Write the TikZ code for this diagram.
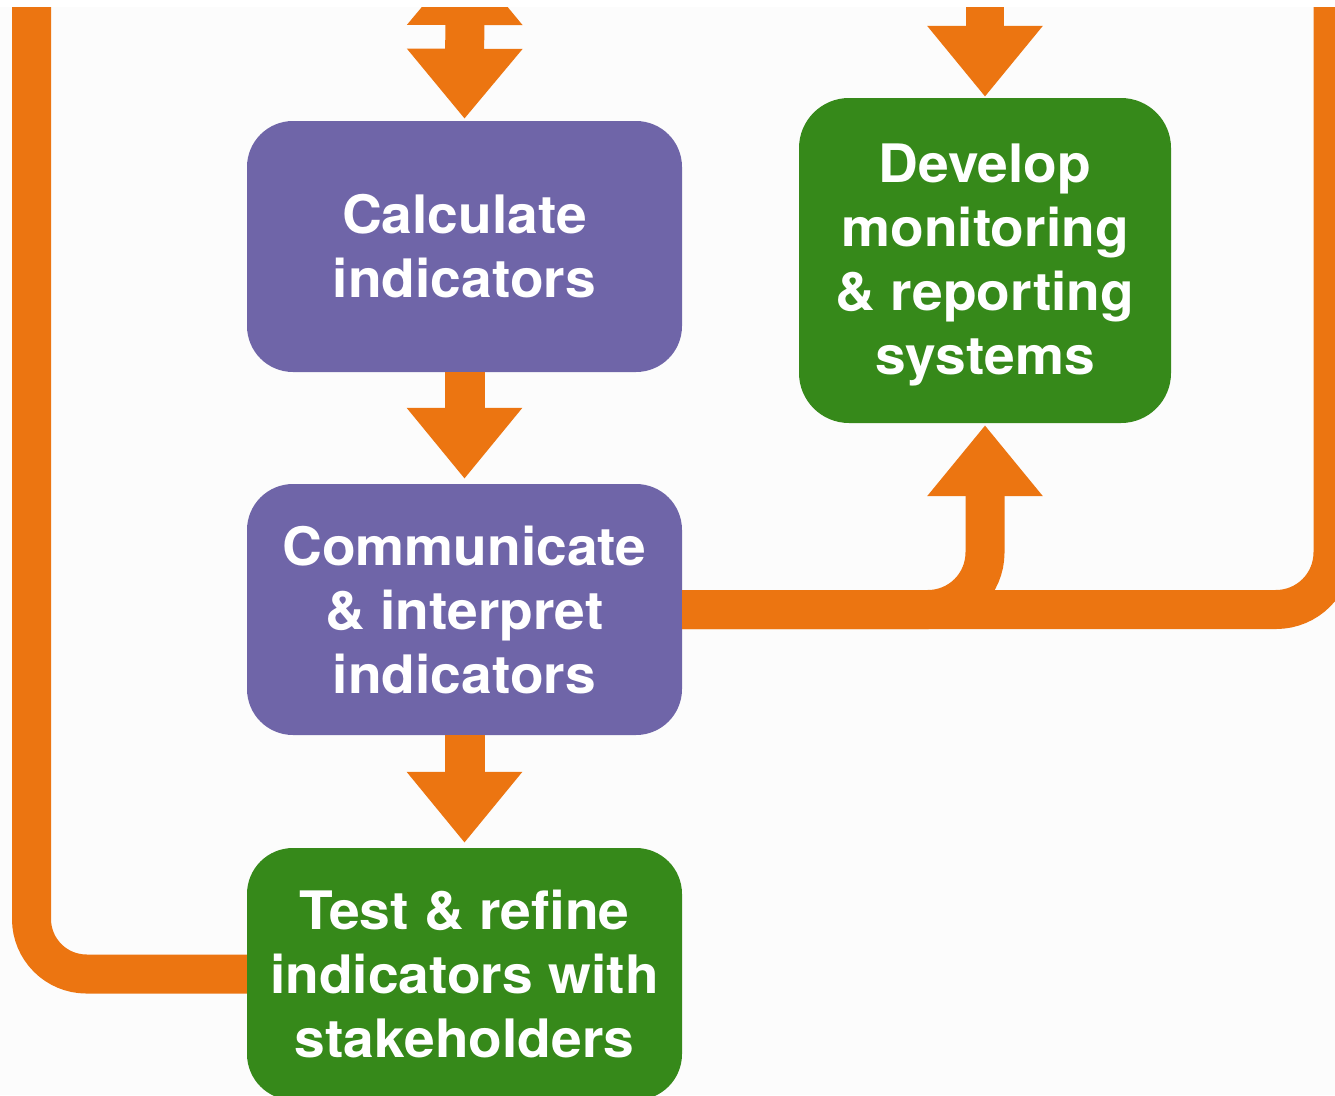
\documentclass[tikz,border=0pt]{standalone}
\usepackage{fontspec}
\setmainfont[FakeStretch=1.04]{TeX Gyre Heros}
\usetikzlibrary{arrows.meta}
\definecolor{orng}{HTML}{EC7511}
\definecolor{purp}{HTML}{6F65A8}
\definecolor{grn}{HTML}{36891A}
\definecolor{bg}{HTML}{FCFCFC}
\tikzset{
  box/.style={rectangle, rounded corners=46pt, inner sep=0pt, text=white,
    align=center, font=\bfseries\fontsize{53}{64}\selectfont,
    minimum width=435pt, minimum height=251pt},
  purplebox/.style={box, fill=purp},
  greenbox/.style={box, fill=grn},
  fatline/.style={draw=orng, line width=39pt},
  fatarrow/.style={fatline, -{Triangle[width=111pt,length=71pt]}},
  fatdouble/.style={fatline, {Triangle[width=111pt,length=70pt]}-{Triangle[width=111pt,length=70pt]}},
}
\begin{document}
\begin{tikzpicture}[x=1pt,y=-1pt]
\useasboundingbox (0,0) rectangle (1335,1095);
\fill[white] (0,0) rectangle (1335,1095);
\begin{scope}
\clip (0,7) rectangle (1335,1095);
\fill[bg] (0,7) rectangle (1335,1095);

\node[purplebox] (calc) at (464.5,246.5) {Calculate\\indicators};
\node[purplebox] (comm) at (464.5,609.5) {Communicate\\\& interpret\\indicators};
\node[greenbox, minimum height=252pt] (test) at (464.5,974) {Test \& refine\\indicators with\\stakeholders};
\node[greenbox, minimum width=372pt, minimum height=325pt, rounded corners=50pt] (dev) at (985,260.5) {\rule{0pt}{47pt}Develop\\monitoring\\\& reporting\\systems};

\coordinate (t1) at (465,-45);
\coordinate (t2) at (985,-80);
\coordinate (rtop) at (1333,-40);
\coordinate (ltop) at (31.5,-40);

\draw[fatdouble, shorten >=2pt] (t1) -- (calc.north);
\draw[fatarrow, line width=38pt, shorten >=1pt] (t2) -- (dev.north);
\draw[fatarrow, line width=40pt, shorten >=5pt] (calc.south) -- (comm.north);
\draw[fatarrow, line width=40pt, shorten >=5pt] (comm.south) -- (test.north);
\draw[fatline, rounded corners=57pt] (comm.east) -| (rtop);
\draw[fatarrow, rounded corners=57pt, shorten >=2pt] (comm.east) -| (dev.south);
\draw[fatline, rounded corners=55pt] (test.west) -| (ltop);
\end{scope}
\end{tikzpicture}
\end{document}
